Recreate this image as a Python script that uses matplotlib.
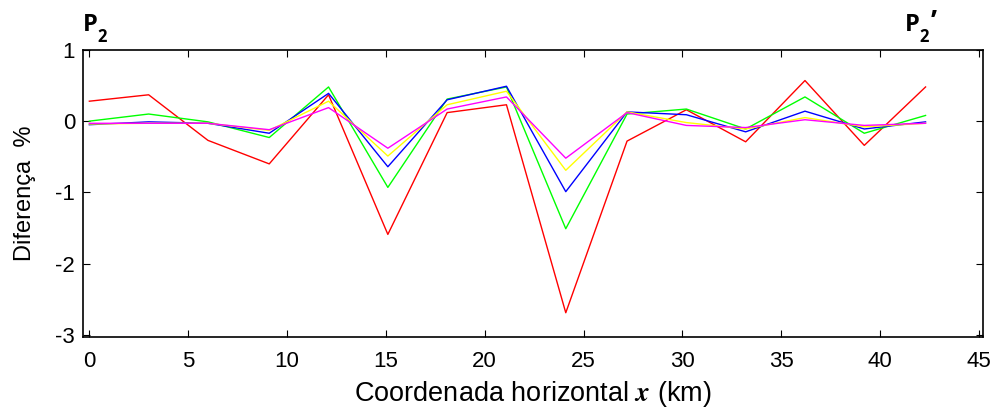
import matplotlib
matplotlib.use("Agg")
import matplotlib.pyplot as plt

# profile positions (km)
x_km = [0, 3.0, 6.0, 9.1, 12.1, 15.1, 18.1, 21.1, 24.1, 27.2, 30.2, 33.2, 36.2, 39.2, 42.3]

# differences (%) per curve
d_red = [0.28, 0.37, -0.27, -0.60, 0.37, -1.59, 0.12, 0.23, -2.69, -0.28, 0.16, -0.29, 0.57, -0.34, 0.48]
d_green = [0.0, 0.10, -0.01, -0.23, 0.48, -0.93, 0.31, 0.48, -1.51, 0.10, 0.17, -0.11, 0.34, -0.17, 0.08]
d_blue = [-0.05, -0.01, -0.03, -0.17, 0.39, -0.64, 0.30, 0.49, -0.99, 0.13, 0.09, -0.15, 0.14, -0.11, -0.01]
d_yellow = [-0.04, -0.03, -0.03, -0.13, 0.28, -0.49, 0.23, 0.42, -0.69, 0.13, -0.02, -0.11, 0.05, -0.08, -0.03]
d_magenta = [-0.03, -0.03, -0.03, -0.12, 0.19, -0.38, 0.17, 0.34, -0.52, 0.12, -0.06, -0.09, 0.02, -0.06, -0.03]

xticks = [0, 5, 10, 15, 20, 25, 30, 35, 40, 45]
yticks = [1, 0, -1, -2, -3]

plt.rcParams['font.family'] = ['Liberation Sans', 'DejaVu Sans']
plt.rcParams['mathtext.fontset'] = 'stix'
plt.rcParams['axes.unicode_minus'] = False

fig = plt.figure(figsize=(10.05, 4.16), dpi=100)
ax = fig.add_axes([0.083, 0.19, 0.895, 0.69])

ax.plot(x_km, d_red, color='#ff0000', lw=1)
ax.plot(x_km, d_green, color='#00ff00', lw=1)
ax.plot(x_km, d_blue, color='#0000ff', lw=1)
ax.plot(x_km, d_yellow, color='#ffff00', lw=1)
ax.plot(x_km, d_magenta, color='#ff00ff', lw=1)

ax.set_xlim(-0.3, 45.2)
ax.set_ylim(-3.03, 1.0)
ax.set_xticks(xticks)
ax.set_yticks(yticks)
ax.tick_params(direction='in', top=True, right=True, length=5, labelsize=16)
ax.tick_params(axis='x', pad=10)
ax.tick_params(axis='y', pad=6)
for s in ax.spines.values():
    s.set_linewidth(1.2)

ax.set_xlabel(r'Coordenada horizontal $\boldsymbol{x}$ (km)', fontsize=19.5, labelpad=5)
ax.set_ylabel('Diferença  %', fontsize=17, labelpad=14)

# P2 / P2' profile end labels
lab_font = ['Open Sans', 'DejaVu Sans']
fig.text(0.082, 0.925, 'P', fontsize=17, fontweight='bold', family=lab_font)
fig.text(0.097, 0.900, '2', fontsize=12, fontweight='bold', family=lab_font)
fig.text(0.900, 0.925, 'P', fontsize=17, fontweight='bold', family=lab_font)
fig.text(0.915, 0.900, '2', fontsize=12, fontweight='bold', family=lab_font)
fig.text(0.926, 0.925, '’', fontsize=20, fontweight='bold', family=lab_font)

fig.savefig('out.png', dpi=100)
